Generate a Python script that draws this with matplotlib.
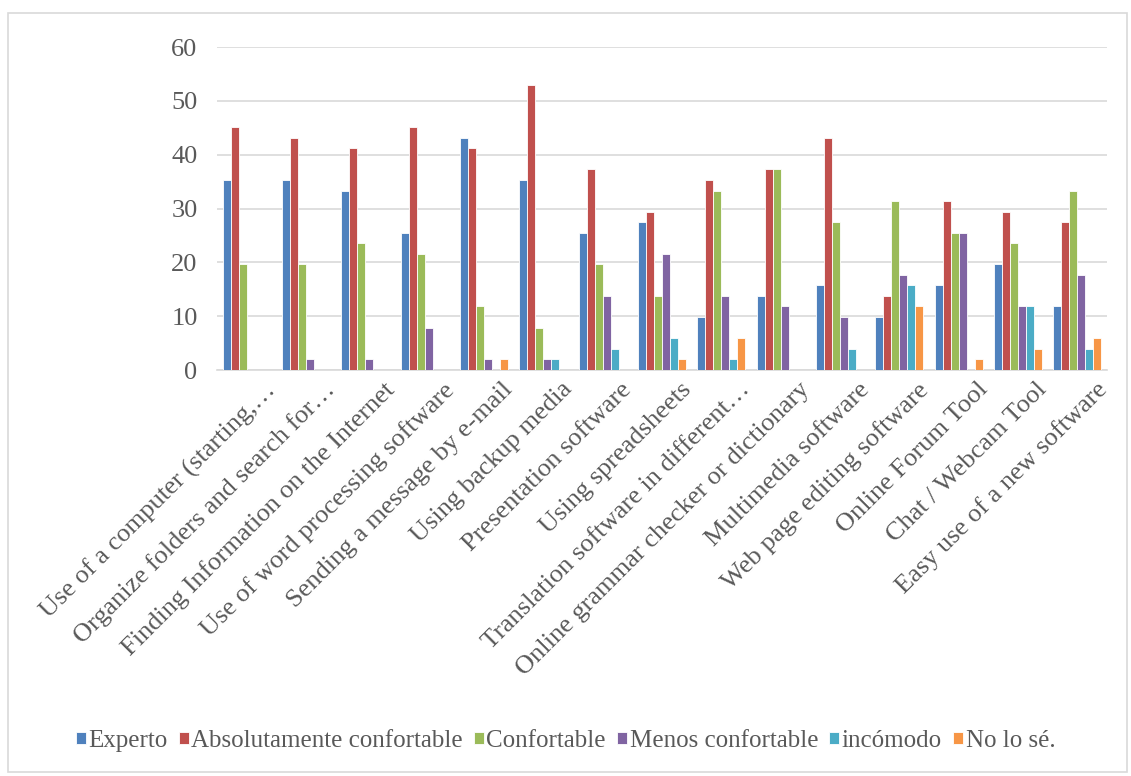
import numpy as np
import matplotlib
matplotlib.use('Agg')
import matplotlib.pyplot as plt
from matplotlib.patches import Rectangle

plt.rcParams['font.family'] = ['Liberation Serif', 'DejaVu Serif']

categories = [
    'Use of a computer (starting,…',
    'Organize folders and search for…',
    'Finding Information on the Internet',
    'Use of word processing software',
    'Sending a message by e-mail',
    'Using backup media',
    'Presentation software',
    'Using spreadsheets',
    'Translation software in different…',
    'Online grammar checker or dictionary',
    'Multimedia software',
    'Web page editing software',
    'Online Forum Tool',
    'Chat / Webcam Tool',
    'Easy use of a new software',
]

experto = [35.3, 35.3, 33.3, 25.5, 43.1, 35.3, 25.5, 27.5, 9.8, 13.7, 15.7, 9.8, 15.7, 19.6, 11.8]
absolutamente = [45.1, 43.1, 41.2, 45.1, 41.2, 52.9, 37.3, 29.4, 35.3, 37.3, 43.1, 13.7, 31.4, 29.4, 27.5]
confortable = [19.6, 19.6, 23.5, 21.6, 11.8, 7.8, 19.6, 13.7, 33.3, 37.3, 27.5, 31.4, 25.5, 23.5, 33.3]
menos = [0, 2.0, 2.0, 7.8, 2.0, 2.0, 13.7, 21.6, 13.7, 11.8, 9.8, 17.6, 25.5, 11.8, 17.6]
incomodo = [0, 0, 0, 0, 0, 2.0, 3.9, 5.9, 2.0, 0, 3.9, 15.7, 0, 11.8, 3.9]
no_lo_se = [0, 0, 0, 0, 2.0, 0, 0, 2.0, 5.9, 0, 0, 11.8, 2.0, 3.9, 5.9]

series_names = ['Experto', 'Absolutamente confortable', 'Confortable',
                'Menos confortable', 'incómodo', 'No lo sé.']
series = [experto, absolutamente, confortable, menos, incomodo, no_lo_se]
colors = ['#4F81BD', '#C0504D', '#9BBB59', '#8064A2', '#4BACC6', '#F79646']

text_color = '#595959'

fig = plt.figure(figsize=(11.31, 7.76), dpi=100)
ax = fig.add_axes([217 / 1131, 1 - 370 / 776, 890 / 1131, 323 / 776])

x = np.arange(len(categories))
n = len(series)
bar_w = 0.135
for i, (vals, name, c) in enumerate(zip(series, series_names, colors)):
    offs = (i - (n - 1) / 2) * bar_w
    ax.bar(x + offs, vals, width=bar_w, color=c, edgecolor='white',
           linewidth=0.6, label=name, zorder=3)

ax.set_xlim(-0.5, len(categories) - 0.5)
ax.set_ylim(0, 60)
ax.set_yticks(range(0, 61, 10))
ax.yaxis.grid(True, color='#D9D9D9', linewidth=1.2, zorder=0)
ax.set_axisbelow(True)
for side in ['top', 'right', 'left']:
    ax.spines[side].set_visible(False)
ax.spines['bottom'].set_color('#D9D9D9')
ax.spines['bottom'].set_linewidth(1.2)

ax.tick_params(axis='y', length=0, pad=14, labelsize=19, labelcolor=text_color)
ax.tick_params(axis='x', length=0, pad=6, labelsize=19, labelcolor=text_color)
ax.set_xticks(x + 0.3)
ax.set_xticklabels(categories, rotation=45, ha='right', rotation_mode='anchor')

handles, labels = ax.get_legend_handles_labels()
fig.legend(handles, labels, loc='center', bbox_to_anchor=(0.5, 1 - 741 / 776),
           ncol=6, frameon=False, fontsize=18, labelcolor=text_color,
           handlelength=0.4, handleheight=0.4, handletextpad=0.1,
           columnspacing=0.45)

# outer chart frame
fig.patches.append(Rectangle((8 / 1131, 1 - 772 / 776), 1119 / 1131, 759 / 776,
                             transform=fig.transFigure, fill=False,
                             edgecolor='#D9D9D9', linewidth=1.2))

fig.savefig('out.png', dpi=100, facecolor='white')
